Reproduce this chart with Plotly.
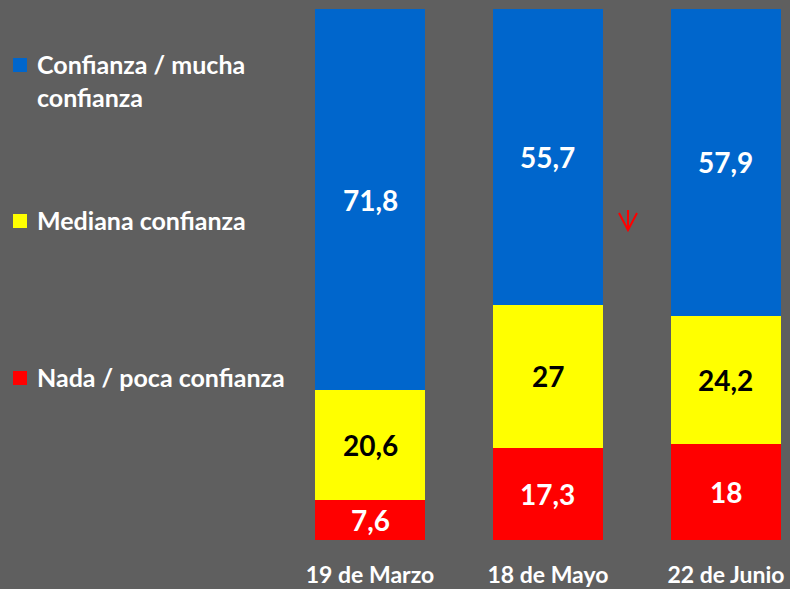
import plotly.graph_objects as go

# Survey waves and stacked shares (%)
fechas = ["19 de Marzo", "18 de Mayo", "22 de Junio"]
nada_poca = [7.6, 17.3, 18]
mediana = [20.6, 27, 24.2]
mucha = [71.8, 55.7, 57.9]

series_values = [nada_poca, mediana, mucha]
series_names = ["Nada / poca confianza", "Mediana confianza", "Confianza / mucha confianza"]
legend_lines = [["Nada / poca confianza"], ["Mediana confianza"], ["Confianza / mucha", "confianza"]]
colores = ["#FF0000", "#FFFF00", "#0066CC"]
text_colores = ["#FFFFFF", "#000000", "#FFFFFF"]

BG = "#5F5F5F"
FONT = "Lato"
W, H = 790, 589
TOP, BOTTOM = 9, 540


def fx(px):
    return px / W


def fy(py):
    return (BOTTOM - py) / (BOTTOM - TOP)


def etiqueta(v):
    return f"{v:g}".replace(".", ",")


fig = go.Figure()
annotations = []
base = [0.0] * len(fechas)
for vals, name, col, tcol in zip(series_values, series_names, colores, text_colores):
    fig.add_trace(go.Bar(
        x=fechas, y=vals, name=name,
        marker=dict(color=col, line=dict(width=0)),
        width=0.62,
        showlegend=False,
        hoverinfo="skip",
    ))
    # value labels, centred in each segment
    for i, v in enumerate(vals):
        annotations.append(dict(text=etiqueta(v), x=fechas[i], y=base[i] + v / 2,
                                xref="x", yref="y", showarrow=False,
                                font=dict(family=FONT, size=28, color=tcol, weight="bold")))
        base[i] += v

# Legend drawn at the left: colour square + label lines
legend_rows = [[378], [221], [65, 98]]
shapes = []
for lines, rows, col in zip(legend_lines, legend_rows, colores):
    sq = rows[0]
    shapes.append(dict(type="rect", xref="paper", yref="paper",
                       x0=fx(13), x1=fx(27), y0=fy(sq + 7), y1=fy(sq - 7),
                       fillcolor=col, line=dict(width=0)))
    for txt, py in zip(lines, rows):
        annotations.append(dict(text=txt, xref="paper", yref="paper",
                                x=fx(35), y=fy(py - 1), xanchor="left", yanchor="middle",
                                showarrow=False,
                                font=dict(family=FONT, size=25, color="white", weight="bold")))

# Small red downward arrow between the second and third bars
shapes.append(dict(type="path", xref="paper", yref="paper",
                   path=(f"M {fx(628)} {fy(210)} L {fx(628)} {fy(230)} "
                         f"M {fx(619)} {fy(213)} L {fx(628)} {fy(230)} L {fx(637)} {fy(213)}"),
                   line=dict(color="#FF0000", width=2)))

fig.update_layout(
    barmode="stack",
    width=W, height=H,
    margin=dict(l=0, r=0, t=TOP, b=H - BOTTOM, pad=0),
    paper_bgcolor=BG, plot_bgcolor=BG,
    bargap=0,
    shapes=shapes,
    annotations=annotations,
    xaxis=dict(range=[-2.079, 2.36], showgrid=False, zeroline=False, showline=False,
               ticks="", ticklabelstandoff=19,
               tickfont=dict(family=FONT, size=23, color="white", weight="bold")),
    yaxis=dict(range=[0, 100], visible=False, showgrid=False, zeroline=False),
)

fig.write_html("out.html")
